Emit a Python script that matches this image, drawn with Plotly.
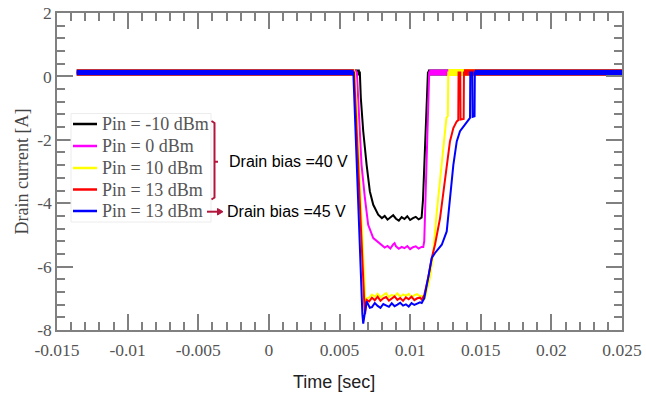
import plotly.graph_objects as go

# ---------------- data ----------------
# Pin = -10 dBm, drain bias 40 V
t_m10 = [-0.0136, 0.00644, 0.00651, 0.00668, 0.00692, 0.00715, 0.00739, 0.00774, 0.0080,
         0.0082, 0.0084, 0.0086, 0.0088, 0.0090, 0.0092, 0.0094, 0.0096, 0.0098, 0.0100,
         0.0102, 0.0104, 0.0106, 0.0108, 0.01081, 0.01091, 0.01126, 0.025]
i_m10 = [0.12, 0.12, -0.68, -1.73, -2.79, -3.63, -4.05, -4.36, -4.47,
         -4.40, -4.52, -4.46, -4.38, -4.49, -4.55, -4.44, -4.50, -4.41, -4.53,
         -4.47, -4.43, -4.51, -4.46, -4.47, -3.90, 0.12, 0.12]

# Pin = 0 dBm, drain bias 40 V
t_0 = [-0.0136, 0.00623, 0.00644, 0.00656, 0.0068, 0.00703, 0.00739, 0.00798,
       0.0082, 0.0084, 0.0086, 0.0088, 0.0089, 0.0090, 0.0092, 0.0094, 0.0096, 0.0098,
       0.0100, 0.0102, 0.0104, 0.0106, 0.0108, 0.01093, 0.0110, 0.01135, 0.025]
i_0 = [0.12, 0.12, -1.73, -2.79, -3.84, -4.68, -5.10, -5.31,
       -5.40, -5.35, -5.43, -5.30, -5.26, -5.36, -5.44, -5.38, -5.42, -5.35,
       -5.45, -5.39, -5.36, -5.43, -5.38, -5.38, -5.20, 0.12, 0.12]

# Pin = 10 dBm, drain bias 40 V
t_10 = [-0.0136, 0.00609, 0.00681, 0.00688, 0.00696,
        0.0071, 0.0073, 0.0075, 0.0077, 0.0079, 0.0081, 0.0083, 0.0085, 0.0087, 0.0089,
        0.0091, 0.0093, 0.0095, 0.0097, 0.0099, 0.0101, 0.0103, 0.0105, 0.0107, 0.01081,
        0.01105, 0.0114, 0.01163, 0.01187, 0.0121, 0.01234, 0.01257, 0.01267, 0.01270, 0.025]
i_10 = [0.12, 0.12, -6.95, -7.30, -7.00,
        -6.98, -6.88, -6.95, -6.86, -6.97, -6.90, -6.84, -6.96, -6.89, -6.93,
        -6.85, -6.95, -6.88, -6.92, -6.86, -6.97, -6.90, -6.87, -6.94, -6.92,
        -6.99, -6.36, -5.62, -4.36, -3.31, -2.26, -1.31, -1.25, 0.12, 0.12]

# Pin = 13 dBm, drain bias 40 V
t_13 = [-0.0136, 0.00603, 0.00676, 0.00681, 0.00692,
        0.0071, 0.0073, 0.0075, 0.0077, 0.0079, 0.0081, 0.0083, 0.0085, 0.0087, 0.0089,
        0.0091, 0.0093, 0.0095, 0.0097, 0.0099, 0.0101, 0.0103, 0.0105, 0.0107, 0.01082,
        0.0110, 0.0113, 0.01153, 0.01176, 0.01212, 0.01235, 0.01259, 0.01282, 0.01306,
        0.0133, 0.01341, 0.01343, 0.01355, 0.01357, 0.01379, 0.01381, 0.025]
i_13 = [0.12, 0.12, -7.20, -7.50, -7.05,
        -7.10, -6.98, -7.06, -6.95, -7.08, -7.00, -6.96, -7.07, -7.01, -6.94,
        -7.05, -6.99, -7.08, -6.97, -7.03, -6.95, -7.06, -7.00, -6.98, -7.04,
        -6.90, -6.30, -5.73, -5.31, -4.47, -3.63, -2.79, -2.05, -1.63,
        -1.42, -1.38, 0.12, 0.12, -1.36, -1.34, 0.12, 0.12]

# Pin = 13 dBm, drain bias 45 V
t_13b = [-0.0136, 0.00598, 0.00662, 0.00668, 0.00692, 0.00715,
         0.0073, 0.0075, 0.0077, 0.0079, 0.0081, 0.0083, 0.0085, 0.0087, 0.0089,
         0.0091, 0.0093, 0.0095, 0.0097, 0.0099, 0.0101, 0.0103, 0.0105, 0.0107, 0.01082,
         0.0110, 0.0113, 0.01153, 0.01176, 0.01224, 0.01259, 0.01282, 0.01306, 0.0133,
         0.01353, 0.01388, 0.01424, 0.01426, 0.01440, 0.01442, 0.01456, 0.01458, 0.025]
i_13b = [0.12, 0.12, -7.50, -7.80, -7.10, -7.30,
         -7.28, -7.15, -7.24, -7.30, -7.18, -7.22, -7.27, -7.16, -7.25,
         -7.20, -7.14, -7.23, -7.19, -7.26, -7.15, -7.21, -7.17, -7.13, -7.15,
         -7.00, -6.30, -5.73, -5.57, -5.31, -4.89, -3.84, -2.79, -2.05,
         -1.73, -1.52, -1.31, 0.12, 0.12, -1.28, -1.26, 0.12, 0.12]

series_names = ["Pin = -10 dBm", "Pin = 0 dBm", "Pin = 10 dBm", "Pin = 13 dBm", "Pin = 13 dBm"]
series_colors = ["#000000", "#ff00ff", "#ffff00", "#ff0000", "#0000ff"]
series_t = [t_m10, t_0, t_10, t_13, t_13b]
series_i = [i_m10, i_0, i_10, i_13, i_13b]
baseline_widths = [6, 6, 7, 6.5, 5.5]

x_tick_vals = [-0.015, -0.01, -0.005, 0, 0.005, 0.01, 0.015, 0.02, 0.025]
x_tick_text = ["-0.015", "-0.01", "-0.005", "0", "0.005", "0.01", "0.015", "0.02", "0.025"]
y_tick_vals = [-8, -6, -4, -2, 0, 2]
y_tick_text = ["-8", "-6", "-4", "-2", "0", "2"]

# ---------------- layout helpers (pixel -> paper) ----------------
L, R, T, B = 57, 622, 13, 330
def px(x):
    return (x - L) / (R - L)
def py(y):
    return (B - y) / (B - T)

SERIF = "Liberation Serif"
SANS = "Liberation Sans"
AXC = "#808080"
BR = "#b3163c"

fig = go.Figure()

for name, col, tt, ii, bw in zip(series_names, series_colors, series_t, series_i, baseline_widths):
    # thick noisy-looking baseline segments (pre-pulse and post-pulse)
    neg = [k for k, v in enumerate(ii) if v < 0]
    k0, k1 = neg[0], neg[-1]
    bx = [tt[0], tt[k0 - 1], None, tt[k1 + 1], tt[-1]]
    by = [ii[0], ii[k0 - 1], None, ii[k1 + 1], ii[-1]]
    fig.add_trace(go.Scatter(x=bx, y=by, mode="lines", showlegend=False, hoverinfo="skip",
                             line=dict(color=col, width=bw)))
    fig.add_trace(go.Scatter(x=tt, y=ii, mode="lines", name=name, showlegend=False,
                             line=dict(color=col, width=2)))

axis_common = dict(
    showline=True, linecolor=AXC, linewidth=1.5, mirror="ticks",
    ticks="inside", ticklen=16, tickwidth=1.5, tickcolor=AXC,
    showgrid=False, zeroline=False, automargin=False,
)

fig.update_xaxes(range=[-0.015, 0.025], tickmode="array", tickvals=x_tick_vals, ticktext=x_tick_text,
                 minor=dict(tickmode="linear", tick0=-0.015, dtick=0.001, ticks="inside",
                            ticklen=8, tickwidth=1.5, tickcolor=AXC, showgrid=False),
                 tickfont=dict(family=SERIF, size=17.5, color="#555555"), ticklabelstandoff=3,
                 **axis_common)
fig.update_yaxes(range=[-8, 2], tickmode="array", tickvals=y_tick_vals, ticktext=y_tick_text,
                 minor=dict(tickmode="linear", tick0=-8, dtick=0.4, ticks="inside",
                            ticklen=8, tickwidth=1.5, tickcolor=AXC, showgrid=False),
                 tickfont=dict(family=SERIF, size=17.5, color="#555555"),
                 **axis_common)

# legend drawn by hand (rows in pixels)
legend_rows = [124, 146, 168, 189.5, 211]
shapes = [
    dict(type="rect", xref="paper", yref="paper", x0=px(71), x1=px(211), y0=py(113.5), y1=py(222),
         fillcolor="white", line=dict(color="#ececec", width=1), layer="above"),
]
annotations = []
for name, col, ry in zip(series_names, series_colors, legend_rows):
    shapes.append(dict(type="line", xref="paper", yref="paper", x0=px(73), x1=px(97),
                       y0=py(ry), y1=py(ry), line=dict(color=col, width=2.5)))
    annotations.append(dict(text=name, x=px(99.5), y=py(ry), xref="paper", yref="paper",
                            xanchor="left", yanchor="middle", showarrow=False,
                            font=dict(family=SERIF, size=18, color="#555555")))

shapes += [
    dict(type="path", xref="paper", yref="paper",
         path=(f"M {px(211.5)},{py(121)} L {px(214.5)},{py(123)} L {px(214.5)},{py(197.5)} "
               f"L {px(211.5)},{py(199.5)} M {px(214.5)},{py(161.7)} L {px(218)},{py(161.7)}"),
         line=dict(color=BR, width=2)),
    dict(type="line", xref="paper", yref="paper", x0=px(207), x1=px(218.5), y0=py(211.7), y1=py(211.7),
         line=dict(color=BR, width=2)),
    dict(type="path", xref="paper", yref="paper",
         path=f"M {px(217.5)},{py(208.5)} L {px(223)},{py(211.7)} L {px(217.5)},{py(215)} Z",
         fillcolor=BR, line=dict(color=BR, width=1)),
]

annotations += [
    dict(text="Drain bias =40 V", x=px(226.5), y=py(161.7), xref="paper", yref="paper",
         xanchor="left", yanchor="middle", showarrow=False,
         font=dict(family=SANS, size=16, color="#000000")),
    dict(text="Drain bias =45 V", x=px(224.5), y=py(211.7), xref="paper", yref="paper",
         xanchor="left", yanchor="middle", showarrow=False,
         font=dict(family=SANS, size=16, color="#000000")),
    dict(text="Time [sec]", x=px(333.5), y=py(382), xref="paper", yref="paper",
         xanchor="center", yanchor="middle", showarrow=False,
         font=dict(family=SANS, size=18, color="#222222")),
    dict(text="Drain current [A]", x=px(21), y=py(171.5), xref="paper", yref="paper",
         xanchor="center", yanchor="middle", showarrow=False, textangle=-90,
         font=dict(family=SERIF, size=18, color="#444444")),
]

fig.update_layout(
    width=646, height=396,
    margin=dict(l=L, r=646 - R, t=T, b=396 - B, autoexpand=False),
    paper_bgcolor="white", plot_bgcolor="white",
    shapes=shapes, annotations=annotations,
    showlegend=False,
)

fig.write_html("out.html")
